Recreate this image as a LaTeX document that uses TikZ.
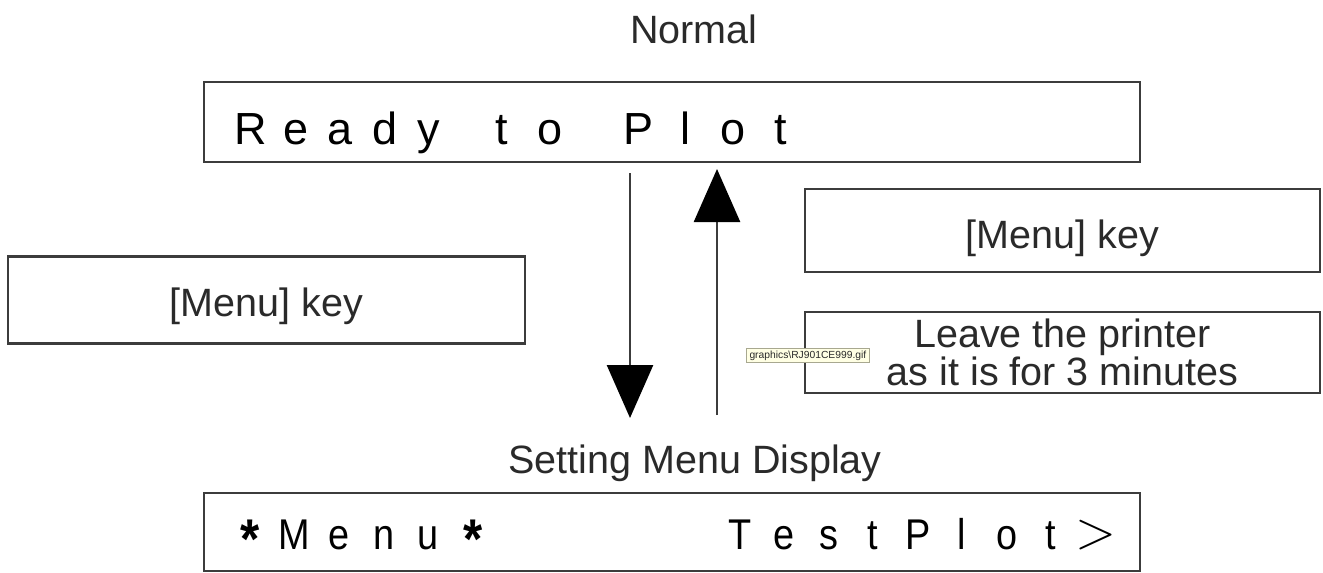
\documentclass[tikz,border=0pt]{standalone}
\usepackage{graphicx}
\usepackage{fontspec}
\setmainfont{Liberation Sans}
\newfontfamily\lcdtop{Liberation Sans}
\newfontfamily\lcdbot[FakeStretch=0.88]{Liberation Sans}
\newfontfamily\lmthin{Latin Modern Roman}
\usetikzlibrary{arrows.meta}
\definecolor{boxline}{HTML}{3C3C3C}
\definecolor{txt}{HTML}{2A2A2A}
\definecolor{tipfill}{HTML}{FFFFE4}
\definecolor{tipline}{HTML}{A8A890}
% LCD-like character cells
\newcommand\lcdcells[2]{\def\lcdpitch{#1}\lcdcellsi#2\relax}
\def\lcdcellsi#1{\ifx#1\relax\else\lcdglyph{#1}\expandafter\lcdcellsi\fi}
\def\lcdglyph#1{\makebox[\lcdpitch][c]{\lcdsym{#1}}}
\def\lcdsym#1{\ifx#1*\lcdast\else\ifx#1>\lcdgt\else#1\fi\fi}
\def\lcdast{\raisebox{-9pt}{\fontsize{56}{56}\selectfont\bfseries *}}
\def\lcdgt{\raisebox{1pt}{\scalebox{1.25}{\lmthin\fontsize{43}{43}\selectfont >}}}
\begin{document}
\begin{tikzpicture}[x=1pt,y=-1pt,
  frame/.style={draw=boxline,line width=2.6pt,fill=white,inner sep=0pt},
  label/.style={text=txt,font=\fontsize{39.5}{38}\selectfont,inner sep=0pt},
  disptop/.style={text=black,inner sep=0pt,anchor=base west,font=\lcdtop\fontsize{45}{45}\selectfont},
  dispbot/.style={text=black,inner sep=0pt,anchor=base west,font=\lcdbot\fontsize{43}{43}\selectfont},
  flow/.style={draw=boxline,line width=2.6pt,-{Triangle[length=53pt,width=46pt,color=black]}},
  tip/.style={draw=tipline,fill=tipfill,line width=0.8pt,text=txt,
    font=\fontsize{10.3}{11}\selectfont,inner sep=0pt,minimum width=123pt,minimum height=14pt,anchor=north west}]
\useasboundingbox (0,0) rectangle (1323,573);
% display boxes
\node[frame,minimum width=936pt,minimum height=80pt] (top) at (672,122) {};
\node[frame,minimum width=936pt,minimum height=78pt] (bot) at (672,532) {};
% display texts
\node[disptop] (w1) at (228.75,144) {\lcdcells{44.5pt}{Ready}};
\node[disptop] (w2) at (478,144) {\lcdcells{48pt}{to}};
\node[disptop] (w3) at (614.25,144) {\lcdcells{47.5pt}{Plot}};
\node[dispbot] (w4) at (227.75,549) {\lcdcells{44.5pt}{*Menu*}};
\node[dispbot] (w5) at (717.25,549) {\lcdcells{44.5pt}{TestPlot>}};
% captions
\node[label,anchor=base] (normal) at (694,43) {Normal};
\node[label,anchor=base] (setting) at (695,473) {Setting Menu Display};
% key boxes
\node[frame,label,minimum width=517pt,minimum height=87pt,text height=40pt,text depth=8pt] (lkey) at (266.5,300) {[Menu] key};
\node[frame,label,minimum width=515pt,minimum height=83pt,text height=43pt,text depth=8pt] (rkey) at (1062.5,230.5) {[Menu] key};
\node[frame,label,minimum width=515pt,minimum height=81pt,align=center] (leave) at (1062.5,352.5) {Leave the printer\\as it is for 3 minutes};
% arrows
\coordinate (d1) at (630,173);
\coordinate (d2) at (630,418);
\coordinate (u1) at (717,415);
\coordinate (u2) at (717,169);
\draw[flow] (d1) -- (d2);
\draw[flow] (u1) -- (u2);
% tooltip
\node[tip] (tooltip) at (746,348) {graphics\textbackslash RJ901CE999.gif};
\end{tikzpicture}
\end{document}
